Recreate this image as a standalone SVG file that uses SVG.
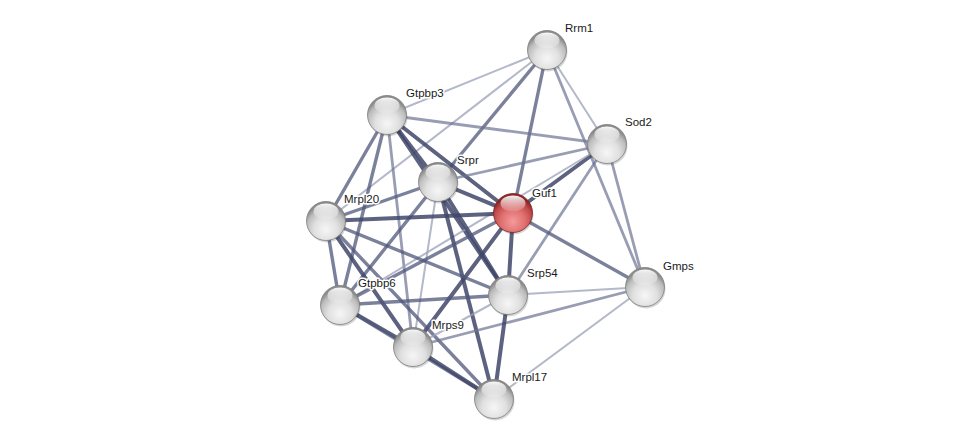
<svg xmlns="http://www.w3.org/2000/svg" width="975" height="445" viewBox="0 0 975 445">
<style>
.e1{stroke:#3f4769;stroke-width:4;stroke-opacity:0.85}
.e2{stroke:#4f5779;stroke-width:3.4;stroke-opacity:0.75}
.e3{stroke:#6c7493;stroke-width:2.8;stroke-opacity:0.7}
.e4{stroke:#9aa0b8;stroke-width:2;stroke-opacity:0.75}
.lbl{font-family:"Liberation Sans",Arial,sans-serif;font-size:11.5px;fill:#1a1a1a;stroke:#ffffff;stroke-width:3;stroke-linejoin:round;paint-order:stroke}
.sh{fill:#000;fill-opacity:0.16}
.hl{fill:url(#hl)}
</style>
<defs>
<radialGradient id="gw" cx="0.5" cy="0.72" r="0.62">
<stop offset="0" stop-color="#f6f6f6"/>
<stop offset="0.5" stop-color="#e0e0e0"/>
<stop offset="0.82" stop-color="#bcbcbc"/>
<stop offset="1" stop-color="#8c8c8c"/>
</radialGradient>
<radialGradient id="gr" cx="0.5" cy="0.72" r="0.62">
<stop offset="0" stop-color="#f59a9a"/>
<stop offset="0.5" stop-color="#e07070"/>
<stop offset="0.82" stop-color="#c04848"/>
<stop offset="1" stop-color="#8a2828"/>
</radialGradient>
<linearGradient id="hl" x1="0" y1="0" x2="0" y2="1">
<stop offset="0" stop-color="#ffffff" stop-opacity="0.95"/>
<stop offset="1" stop-color="#ffffff" stop-opacity="0.1"/>
</linearGradient>
<g id="ball">
<circle cx="1" cy="2" r="19.5" class="sh"/>
<circle r="19.5" fill="url(#gw)" stroke="#7d7d7d" stroke-width="0.8"/>
<ellipse cx="0" cy="-9.5" rx="12.5" ry="8" class="hl"/>
</g>
<g id="rball">
<circle cx="1" cy="2" r="19.5" class="sh"/>
<circle r="19.5" fill="url(#gr)" stroke="#7e2424" stroke-width="0.8"/>
<ellipse cx="0" cy="-9.5" rx="12.5" ry="8" class="hl"/>
</g>
</defs>
<rect width="975" height="445" fill="#ffffff"/>
<g id="edges" fill="none" stroke-linecap="round">
<line class="e4" x1="547" y1="50" x2="387" y2="115"/>
<line class="e4" x1="547" y1="50" x2="326" y2="221"/>
<line class="e2" x1="547" y1="50" x2="438" y2="182"/>
<line class="e2" x1="547" y1="50" x2="513" y2="213"/>
<line class="e4" x1="547" y1="50" x2="607" y2="144"/>
<line class="e3" x1="547" y1="50" x2="645" y2="287"/>
<line class="e3" x1="387" y1="115" x2="607" y2="144"/>
<line class="e1" x1="387" y1="115" x2="513" y2="213"/>
<line class="e1" x1="387" y1="115" x2="438" y2="182"/>
<line class="e1" x1="387" y1="115" x2="508" y2="295"/>
<line class="e2" x1="387" y1="115" x2="326" y2="221"/>
<line class="e2" x1="387" y1="115" x2="340" y2="305"/>
<line class="e3" x1="387" y1="115" x2="413" y2="347"/>
<line class="e3" x1="607" y1="144" x2="438" y2="182"/>
<line class="e1" x1="607" y1="144" x2="513" y2="213"/>
<line class="e4" x1="607" y1="144" x2="340" y2="305"/>
<line class="e3" x1="607" y1="144" x2="508" y2="295"/>
<line class="e3" x1="607" y1="144" x2="645" y2="287"/>
<line class="e1" x1="438" y1="182" x2="513" y2="213"/>
<line class="e2" x1="438" y1="182" x2="326" y2="221"/>
<line class="e2" x1="438" y1="182" x2="340" y2="305"/>
<line class="e4" x1="438" y1="182" x2="413" y2="347"/>
<line class="e1" x1="438" y1="182" x2="508" y2="295"/>
<line class="e1" x1="438" y1="182" x2="494" y2="399"/>
<line class="e1" x1="513" y1="213" x2="326" y2="221"/>
<line class="e2" x1="513" y1="213" x2="645" y2="287"/>
<line class="e1" x1="513" y1="213" x2="508" y2="295"/>
<line class="e2" x1="513" y1="213" x2="340" y2="305"/>
<line class="e1" x1="513" y1="213" x2="413" y2="347"/>
<line class="e2" x1="326" y1="221" x2="340" y2="305"/>
<line class="e2" x1="326" y1="221" x2="508" y2="295"/>
<line class="e1" x1="326" y1="221" x2="413" y2="347"/>
<line class="e2" x1="326" y1="221" x2="494" y2="399"/>
<line class="e1" x1="340" y1="305" x2="413" y2="347"/>
<line class="e2" x1="340" y1="305" x2="508" y2="295"/>
<line class="e2" x1="340" y1="305" x2="494" y2="399"/>
<line class="e4" x1="413" y1="347" x2="508" y2="295"/>
<line class="e3" x1="413" y1="347" x2="645" y2="287"/>
<line class="e1" x1="413" y1="347" x2="494" y2="399"/>
<line class="e4" x1="508" y1="295" x2="645" y2="287"/>
<line class="e1" x1="508" y1="295" x2="494" y2="399"/>
<line class="e4" x1="645" y1="287" x2="494" y2="399"/>
</g>
<g id="Rrm1"><use href="#ball" x="547" y="50"/><text class="lbl" x="565" y="32">Rrm1</text></g>
<g id="Gtpbp3"><use href="#ball" x="387" y="115"/><text class="lbl" x="406" y="97">Gtpbp3</text></g>
<g id="Sod2"><use href="#ball" x="607" y="144"/><text class="lbl" x="625" y="126">Sod2</text></g>
<g id="Srpr"><use href="#ball" x="438" y="182"/><text class="lbl" x="457" y="164">Srpr</text></g>
<g id="Guf1"><use href="#rball" x="513" y="213"/><text class="lbl" x="532" y="197">Guf1</text></g>
<g id="Mrpl20"><use href="#ball" x="326" y="221"/><text class="lbl" x="344" y="203">Mrpl20</text></g>
<g id="Gmps"><use href="#ball" x="645" y="287"/><text class="lbl" x="663" y="270">Gmps</text></g>
<g id="Srp54"><use href="#ball" x="508" y="295"/><text class="lbl" x="527" y="277">Srp54</text></g>
<g id="Gtpbp6"><use href="#ball" x="340" y="305"/><text class="lbl" x="358" y="287">Gtpbp6</text></g>
<g id="Mrps9"><use href="#ball" x="413" y="347"/><text class="lbl" x="432" y="329">Mrps9</text></g>
<g id="Mrpl17"><use href="#ball" x="494" y="399"/><text class="lbl" x="512" y="381">Mrpl17</text></g>
</svg>
